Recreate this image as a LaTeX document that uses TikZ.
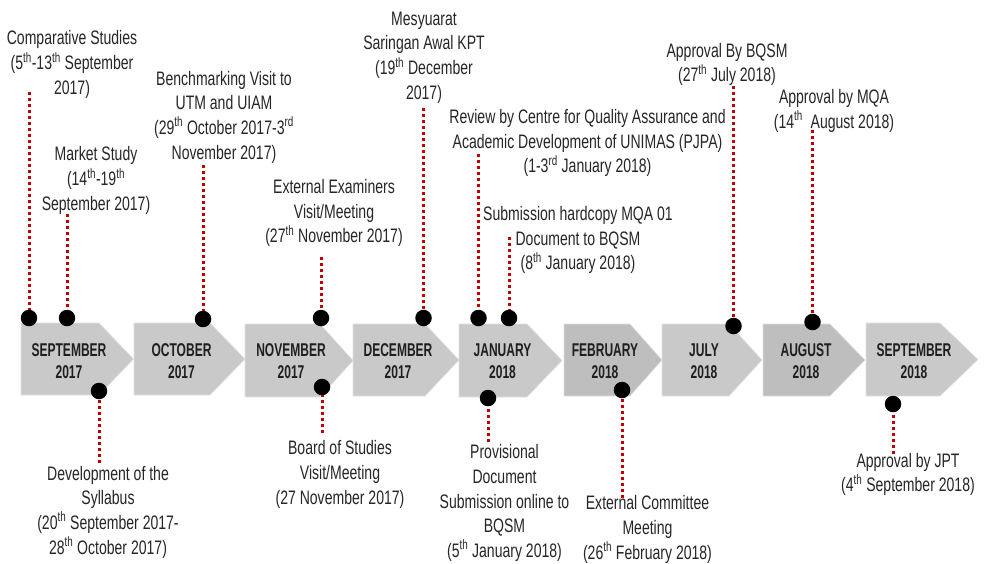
\documentclass[tikz,border=0pt]{standalone}
\usepackage{fontspec}
\setmainfont{Liberation Sans}[FakeStretch=0.72]
\newfontfamily\monthfont{Liberation Sans}[FakeStretch=0.65]
\definecolor{txt}{HTML}{262626}
\definecolor{lightarr}{HTML}{C9C9C9}
\definecolor{darkarr}{HTML}{BEBEBE}
\definecolor{dotred}{HTML}{C00000}
\tikzset{
  evt/.style={align=center, text=txt, font=\fontsize{19.5}{24.7}\selectfont, inner sep=0pt},
  mlabel/.style={align=center, text=black!88, font=\monthfont\bfseries\fontsize{18.5}{22}\selectfont, inner sep=0pt},
  pin/.style={circle, fill=black, minimum size=16.5pt, inner sep=0pt},
  redline/.style={draw=dotred, line width=3pt, dash pattern=on 3.2pt off 2.8pt},
  arrowbox/.style={draw=white!88!black, line width=0.6pt}
}
\newcommand{\chev}[6]{% L,S,Tip,T,B,color
  \path[fill=#6,arrowbox] (#1,#4) -- (#2,#4) -- (#3,{(#4+#5)/2}) -- (#2,#5) -- (#1,#5) -- cycle;
}
\newcommand{\sth}[1]{\textsuperscript{#1}}
\begin{document}
\begin{tikzpicture}[x=1pt,y=-1pt]
\useasboundingbox[fill=white] (0,0) rectangle (984,563);
% chevrons
\chev{21}{99}{133.5}{323}{395}{lightarr}
\chev{134}{210}{245}{323}{395}{lightarr}
\chev{245}{320}{353}{324}{397}{lightarr}
\chev{353}{425}{459}{324}{396}{lightarr}
\chev{459}{527}{562}{324}{397}{lightarr}
\chev{564}{630}{662}{324}{396}{darkarr}
\chev{662}{729}{762}{324}{396}{lightarr}
\chev{763}{830}{865}{324}{396}{darkarr}
\chev{866}{940}{978}{323}{396}{lightarr}
% month labels
\node[mlabel] (m1) at (69,361) {SEPTEMBER\\2017};
\node[mlabel] (m2) at (181.5,361) {OCTOBER\\2017};
\node[mlabel] (m3) at (291,361) {NOVEMBER\\2017};
\node[mlabel] (m4) at (398,361) {DECEMBER\\2017};
\node[mlabel] (m5) at (502.5,361) {JANUARY\\2018};
\node[mlabel] (m6) at (605,361) {FEBRUARY\\2018};
\node[mlabel] (m7) at (704,361) {JULY\\2018};
\node[mlabel] (m8) at (806,361) {AUGUST\\2018};
\node[mlabel] (m9) at (914,361) {SEPTEMBER\\2018};
% pins
\node[pin] (p1) at (29,318) {};
\node[pin] (p2) at (67,318) {};
\node[pin] (p3) at (99,391) {};
\node[pin] (p4) at (203,319) {};
\node[pin] (p5) at (321,318) {};
\node[pin] (p6) at (322,387) {};
\node[pin] (p7) at (423.5,318) {};
\node[pin] (p8) at (478.5,318) {};
\node[pin] (p9) at (509,318) {};
\node[pin] (p10) at (488,398) {};
\node[pin] (p11) at (622,390) {};
\node[pin] (p12) at (733.5,326) {};
\node[pin] (p13) at (812.5,322) {};
\node[pin] (p14) at (893,404) {};
% line ends
\coordinate (c1) at (29,92);
\coordinate (c2) at (67,214);
\coordinate (c3) at (99,463);
\coordinate (c4) at (203,165);
\coordinate (c5) at (321,257);
\coordinate (c6) at (322,433);
\coordinate (c7) at (423.5,108);
\coordinate (c8) at (478.5,154);
\coordinate (c9) at (509,237);
\coordinate (c10) at (488,442);
\coordinate (c11) at (622,498);
\coordinate (c12) at (733.5,86);
\coordinate (c13) at (812.5,130);
\coordinate (c14) at (893,454);
\foreach \i in {1,...,14} {\draw[redline] (c\i) -- (p\i);}
% event texts
\node[evt] (t1) at (72,64.5) {Comparative Studies\\(5\sth{th}-13\sth{th} September\\2017)};
\node[evt] (t2) at (96,180.5) {Market Study\\(14\sth{th}-19\sth{th}\\September 2017)};
\node[evt] (t3) at (224,117) {Benchmarking Visit to\\UTM and UIAM\\(29\sth{th} October 2017-3\sth{rd}\\November 2017)};
\node[evt] (t4) at (334,213) {External Examiners\\Visit/Meeting\\(27\sth{th} November 2017)};
\node[evt] (t5) at (424,57.5) {Mesyuarat\\Saringan Awal KPT\\(19\sth{th} December\\2017)};
\node[evt] (t6) at (587.5,143) {Review by Centre for Quality Assurance and\\Academic Development of UNIMAS (PJPA)\\(1-3\sth{rd} January 2018)};
\node[evt] (t7) at (578,240) {Submission hardcopy MQA 01\\Document to BQSM\\(8\sth{th} January 2018)};
\node[evt] (t8) at (727,64.5) {Approval By BQSM\\(27\sth{th} July 2018)};
\node[evt] (t9) at (834,111) {Approval by MQA\\(14\sth{th}\ \ August 2018)};
\node[evt] (t10) at (108,512) {Development of the\\Syllabus\\(20\sth{th} September 2017-\\28\sth{th} October 2017)};
\node[evt] (t11) at (340,474.5) {Board of Studies\\Visit/Meeting\\(27 November 2017)};
\node[evt] (t12) at (504.5,503) {Provisional\\Document\\Submission online to\\BQSM\\(5\sth{th} January 2018)};
\node[evt] (t13) at (647.5,529.5) {External Committee\\Meeting\\(26\sth{th} February 2018)};
\node[evt] (t14) at (908,474.5) {Approval by JPT\\(4\sth{th} September 2018)};
\end{tikzpicture}
\end{document}
